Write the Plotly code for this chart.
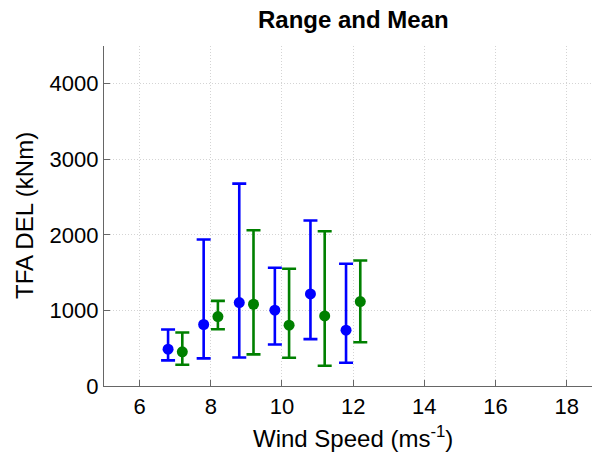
import plotly.graph_objects as go

# Data
wind_blue = [6.8, 7.8, 8.8, 9.8, 10.8, 11.8]
mean_blue = [488, 814, 1104, 1003, 1218, 739]
max_blue = [748, 1939, 2678, 1566, 2190, 1619]
min_blue = [339, 365, 378, 550, 620, 308]

wind_green = [7.2, 8.2, 9.2, 10.2, 11.2, 12.2]
mean_green = [453, 919, 1082, 805, 928, 1117]
max_green = [708, 1126, 2062, 1552, 2049, 1662]
min_green = [281, 752, 418, 374, 268, 580]

x_ticks = [6, 8, 10, 12, 14, 16, 18]
y_ticks = [0, 1000, 2000, 3000, 4000]

fig = go.Figure()

def add_series(xs, means, maxs, mins, color):
    fig.add_trace(go.Scatter(
        x=xs, y=means, mode="markers",
        marker=dict(color=color, size=11, symbol="circle"),
        error_y=dict(
            type="data", symmetric=False,
            array=[mx - m for mx, m in zip(maxs, means)],
            arrayminus=[m - mn for mn, m in zip(mins, means)],
            color=color, thickness=2.6, width=7,
        ),
        showlegend=False,
    ))

add_series(wind_blue, mean_blue, max_blue, min_blue, "#0000FF")
add_series(wind_green, mean_green, max_green, min_green, "#008000")

font = "Liberation Sans, Arial, sans-serif"
W, H = 592, 455
# plot area in page pixels: left 104, top 46, right 592, bottom 386
L, T, R = 104, 46, 0
B = H - 386
PW, PH = W - L - R, H - T - B

fig.update_layout(
    width=W, height=H,
    margin=dict(l=L, r=R, t=T, b=B, pad=0, autoexpand=False),
    plot_bgcolor="white", paper_bgcolor="white",
    font=dict(family=font, size=22, color="black"),
    showlegend=False,
)

common = dict(
    showline=True, linecolor="#666666", linewidth=1.2,
    ticks="inside", ticklen=6, tickcolor="#666666",
    showgrid=True, gridcolor="#d4d4d4", griddash="1px,2px", gridwidth=1,
    zeroline=False, tickfont=dict(size=22, color="black"), automargin=False,
)
fig.update_xaxes(range=[5, 18.71], tickvals=x_ticks,
                 ticktext=[str(v) for v in x_ticks], **common)
fig.update_yaxes(range=[0, 4500], tickvals=y_ticks,
                 ticktext=[str(v) for v in y_ticks], **common)

def px_x(p):  # page pixel -> paper
    return (p - L) / PW

def px_y(p):
    return (H - B - p) / PH

fig.add_annotation(
    text="<b>Range and Mean</b>", xref="paper", yref="paper",
    x=px_x(353), y=px_y(19), xanchor="center", yanchor="middle",
    showarrow=False, font=dict(size=24, family=font, color="black"),
)
fig.add_annotation(
    text="Wind Speed (ms<sup>-1</sup>)", xref="paper", yref="paper",
    x=px_x(353), y=px_y(437), xanchor="center", yanchor="middle",
    showarrow=False, font=dict(size=24, family=font, color="black"),
)
fig.add_annotation(
    text="TFA DEL (kNm)", xref="paper", yref="paper",
    x=px_x(24), y=px_y(216), xanchor="center", yanchor="middle",
    textangle=-90, showarrow=False,
    font=dict(size=24, family=font, color="black"),
)

fig.write_html(
    "out.html",
    config={"displayModeBar": False, "staticPlot": True},
    post_script="document.body.style.margin='0';document.body.style.overflow='hidden';",
)
